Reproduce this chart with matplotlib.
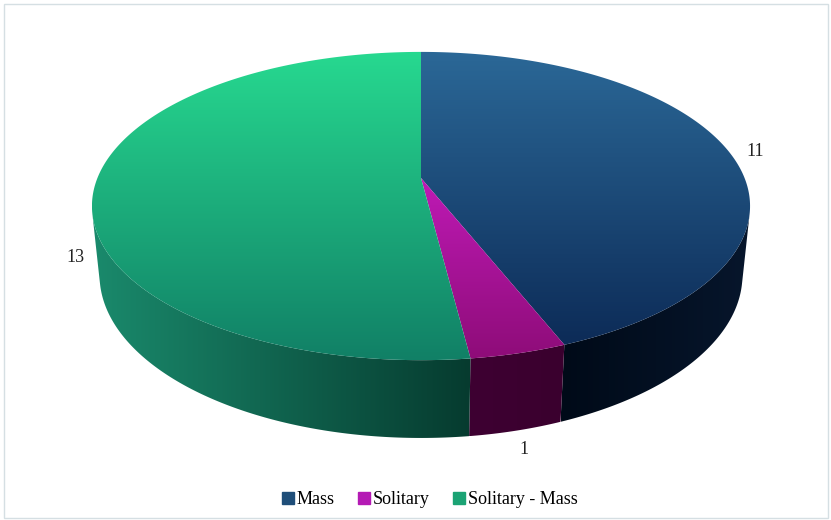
import numpy as np
import matplotlib
matplotlib.use("Agg")
import matplotlib.pyplot as plt
from matplotlib.patches import Polygon, Rectangle
from matplotlib.colors import LinearSegmentedColormap
from matplotlib.lines import Line2D

categories = ["Mass", "Solitary", "Solitary - Mass"]
values = [11, 1, 13]
legend_colors = ["#1f4e79", "#b41ab4", "#1ba374"]
top_colors = [("#2b6897", "#0b2854"), ("#e024e0", "#8e0c78"), ("#27d990", "#118066")]
side_colors = [("#000a18", "#07162c"), ("#3e0032", "#3a002e"), ("#1a8a6c", "#063b2f")]

plt.rcParams['font.family'] = ['Liberation Serif', 'DejaVu Serif']

W, H = 831, 520
fig = plt.figure(figsize=(W / 100, H / 100), dpi=100)
ax = fig.add_axes([0, 0, 1, 1])
ax.set_xlim(0, W)
ax.set_ylim(H, 0)
ax.axis("off")

# perspective camera model
X0, Y0 = 421.0, 178.0
elev = np.arcsin(0.4606)
Ldist = 4.88
scale = 1579.0
thick = 0.2423

def proj(theta, z=0.0):
    t = np.radians(theta)
    u, v = np.sin(t), -np.cos(t)
    d = Ldist - v * np.cos(elev) - z * np.sin(elev)
    xc = u
    yc = -v * np.sin(elev) + z * np.cos(elev)
    return X0 + scale * xc / d, Y0 - scale * yc / d

def clip_gradient(poly_xy, c1, c2, horizontal, extent, z):
    poly = Polygon(poly_xy, closed=True, facecolor="none", edgecolor="none")
    ax.add_patch(poly)
    cmap = LinearSegmentedColormap.from_list("g", [c1, c2])
    grad = np.linspace(0, 1, 256)[None, :] if horizontal else np.linspace(0, 1, 256)[:, None]
    im = ax.imshow(grad, cmap=cmap, extent=extent, aspect="auto",
                   interpolation="bilinear", zorder=z)
    im.set_clip_path(poly)

total = sum(values)
bounds = np.concatenate([[0], np.cumsum(values) / total * 360.0])

# visible side range
half = np.degrees(np.arccos(1.0 / (Ldist * np.cos(elev))))
vis_lo, vis_hi = 180 - half, 180 + half
sx = [proj(t, -thick)[0] for t in np.linspace(0, 360, 721)] + [proj(t)[0] for t in np.linspace(0, 360, 721)]
side_extent_x = (min(sx), max(sx))

for i in range(len(values)):
    a, b = bounds[i], bounds[i + 1]
    lo, hi = max(a, vis_lo), min(b, vis_hi)
    if hi <= lo:
        continue
    th = np.linspace(lo, hi, 120)
    top = [proj(t) for t in th]
    bot = [proj(t, -thick) for t in th[::-1]]
    pts = np.array(top + bot)
    x0, x1 = pts[:, 0].min(), pts[:, 0].max()
    y0, y1 = pts[:, 1].min(), pts[:, 1].max()
    c_left, c_right = side_colors[i]
    clip_gradient(top + bot, c_left, c_right, True, [x0, x1, y1, y0], 1)

tp = np.array([proj(t) for t in np.linspace(0, 360, 721)])
top_extent = [tp[:, 0].min(), tp[:, 0].max(), tp[:, 1].max(), tp[:, 1].min()]
for i in range(len(values)):
    a, b = bounds[i], bounds[i + 1]
    th = np.linspace(a, b, 200)
    poly = [(X0, Y0)] + [proj(t) for t in th]
    clip_gradient(poly, top_colors[i][0], top_colors[i][1], False, top_extent, 2)

ax.set_xlim(0, W)
ax.set_ylim(H, 0)

# data labels
label_pos = [(755, 152), (524, 450), (75, 257)]
for v, (x, y) in zip(values, label_pos):
    ax.text(x, y, str(v), fontsize=13, ha="center", va="center", color="#222222", zorder=5)

# border
ax.add_patch(Rectangle((3.5, 3.5), W - 7, H - 6, facecolor="none", edgecolor="#d5dfe3",
                       linewidth=1, zorder=6))

handles = [Line2D([0], [0], marker="s", linestyle="none", markersize=8,
                  markerfacecolor=c, markeredgecolor=c) for c in legend_colors]
fig.legend(handles, categories, loc="center", bbox_to_anchor=(429 / W, 1 - 500 / H),
           ncol=3, frameon=False, fontsize=13, handletextpad=0.1, columnspacing=1.2,
           handlelength=0.8)

fig.savefig("out.png", dpi=100)
